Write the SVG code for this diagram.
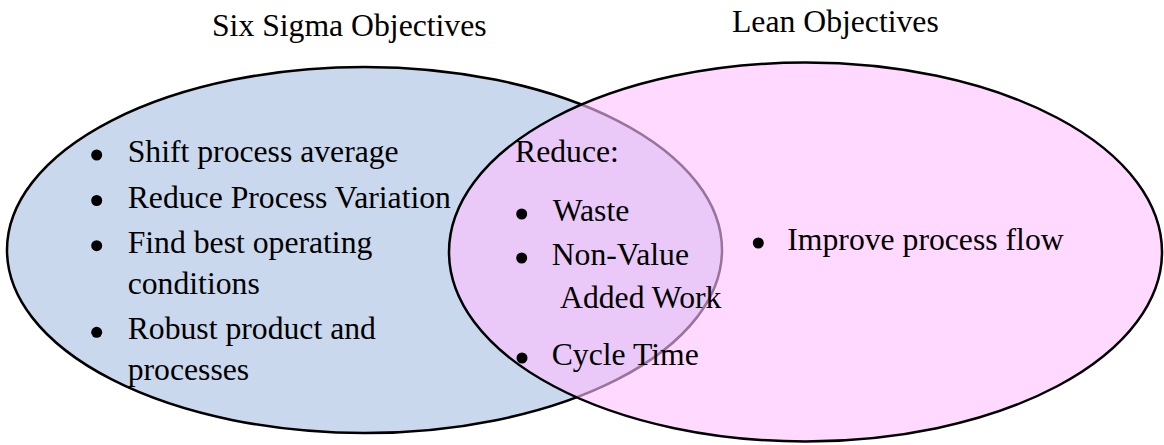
<svg xmlns="http://www.w3.org/2000/svg" width="1164" height="445" viewBox="0 0 1164 445">
<style>
text{font-family:"Liberation Serif","Times New Roman",serif;font-size:31.7px;fill:#000}
.b{fill:#000}
.e{stroke:#000;stroke-width:2.5}
</style>
<rect width="1164" height="445" fill="#fff"/>
<g id="six-sigma">
<ellipse class="e" cx="364.5" cy="250" rx="357.5" ry="183" fill="#CAD8EE"/>
</g>
<g id="lean">
<ellipse class="e" cx="805.5" cy="252" rx="356.5" ry="189.5" fill="#FFC0FF" fill-opacity="0.6"/>
</g>
<g id="connectors"></g>
<g id="titles">
<text x="212" y="36">Six Sigma Objectives</text>
<text x="732" y="31.7">Lean Objectives</text>
</g>
<g id="six-sigma-text">
<circle class="b" cx="96.7" cy="155" r="5.5"/>
<text x="127.7" y="162">Shift process average</text>
<circle class="b" cx="96.7" cy="200.5" r="5.5"/>
<text x="127.7" y="207.5">Reduce Process Variation</text>
<circle class="b" cx="96.7" cy="245.7" r="5.5"/>
<text x="127.7" y="252.7">Find best operating</text>
<text x="127.7" y="294">conditions</text>
<circle class="b" cx="96.7" cy="332.3" r="5.5"/>
<text x="127.7" y="339.3">Robust product and</text>
<text x="127.7" y="380">processes</text>
</g>
<g id="overlap-text">
<text x="515" y="161.7">Reduce:</text>
<circle class="b" cx="521.7" cy="214" r="5.5"/>
<text x="552.7" y="221">Waste</text>
<circle class="b" cx="521.7" cy="258" r="5.5"/>
<text x="551.7" y="265">Non-Value</text>
<text x="560" y="308.3">Added Work</text>
<circle class="b" cx="522" cy="358" r="5.5"/>
<text x="551.7" y="365">Cycle Time</text>
</g>
<g id="lean-text">
<circle class="b" cx="758.3" cy="243" r="5.5"/>
<text x="787.3" y="250">Improve process flow</text>
</g>
</svg>
